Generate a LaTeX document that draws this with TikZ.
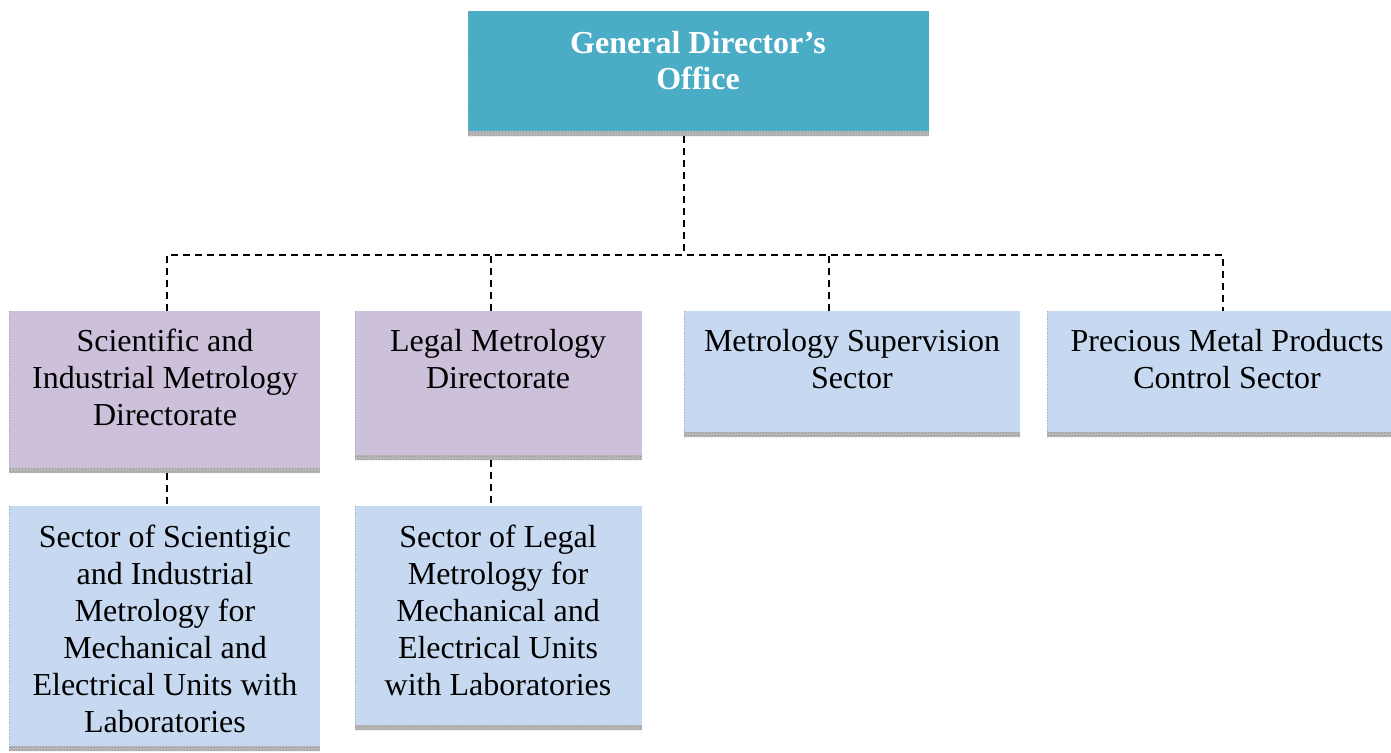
\documentclass[tikz,border=0pt]{standalone}
\usepackage{fontspec}
\setmainfont{Liberation Serif}
\usetikzlibrary{patterns}
\definecolor{topc}{HTML}{4BACC6}
\definecolor{purp}{HTML}{CCC0DA}
\definecolor{lblue}{HTML}{C6D9F1}
\tikzset{
  box/.style={rectangle, anchor=north west, inner sep=0pt, outer sep=0pt},
  txt/.style={anchor=north, align=center, inner sep=0pt, font=\fontsize{32}{37}\selectfont},
  toptxt/.style={anchor=north, align=center, inner sep=0pt, text=white, font=\fontsize{32}{36}\selectfont\bfseries},
  strip/.style={fill=gray!55},
  stripdots/.style={pattern=crosshatch dots, pattern color=gray!90},
  conn/.style={draw=black, line width=1.4pt, dash pattern=on 7pt off 5pt}
}
\newcommand{\shadowstrip}[1]{%
  \fill[strip] (#1.south west) rectangle ([yshift=-5pt]#1.south east);
  \fill[stripdots] (#1.south west) rectangle ([yshift=-5pt]#1.south east);
  \draw[gray!70, line width=0.8pt, dotted] ([xshift=0.4pt]#1.north west) -- ([xshift=0.4pt,yshift=-5pt]#1.south west);}
\begin{document}
\begin{tikzpicture}[x=1pt,y=-1pt]
\useasboundingbox (0,0) rectangle (1391,752);
% boxes
\node[box, fill=topc, minimum width=461pt, minimum height=120pt] (top) at (468,11) {};
\node[box, fill=purp, minimum width=311pt, minimum height=157pt] (b1) at (9,311) {};
\node[box, fill=purp, minimum width=287pt, minimum height=144pt] (b2) at (355,311) {};
\node[box, fill=lblue, minimum width=336pt, minimum height=121pt] (b3) at (684,311) {};
\node[box, fill=lblue, minimum width=344pt, minimum height=121pt] (b4) at (1047,311) {};
\node[box, fill=lblue, minimum width=311pt, minimum height=240pt] (b5) at (9,506) {};
\node[box, fill=lblue, minimum width=287pt, minimum height=219pt] (b6) at (355,506) {};
\foreach \b in {top,b1,b2,b3,b4,b5,b6} {\shadowstrip{\b}}
% texts
\node[toptxt] (ttop) at (698,31) {General Director’s\\Office};
\node[txt] (t1) at (165,329) {Scientific and\\Industrial Metrology\\Directorate};
\node[txt] (t2) at (498,329) {Legal Metrology\\Directorate};
\node[txt] (t3) at (852,329) {Metrology Supervision\\Sector};
\node[txt] (t4) at (1227,329) {Precious Metal Products\\Control Sector};
\node[txt] (t5) at (165,525) {Sector of Scientigic\\and Industrial\\Metrology for\\Mechanical and\\Electrical Units with\\Laboratories};
\node[txt] (t6) at (498,525) {Sector of Legal\\Metrology for\\Mechanical and\\Electrical Units\\with Laboratories};
% connectors
\coordinate (hy) at (684,255);
\coordinate (d0) at ([xshift=-14.5pt,yshift=-5pt]top.south);
\coordinate (d1) at ([xshift=2.5pt]b1.north);
\coordinate (d2) at ([xshift=-7.5pt]b2.north);
\coordinate (d3) at ([xshift=-23pt]b3.north);
\coordinate (d4) at ([xshift=4pt]b4.north);
\draw[conn] (d0) -- (d0 |- hy);
\draw[conn] (d1) |- (d4 |- hy) -- (d4);
\draw[conn] (d2) -- (d2 |- hy);
\draw[conn] (d3) -- (d3 |- hy);
\coordinate (u1) at ([xshift=2.5pt,yshift=-5pt]b1.south);
\coordinate (u2) at ([xshift=-7.5pt,yshift=-5pt]b2.south);
\draw[conn] (u1) -- (u1 |- b5.north);
\draw[conn] (u2) -- (u2 |- b6.north);
\end{tikzpicture}
\end{document}
